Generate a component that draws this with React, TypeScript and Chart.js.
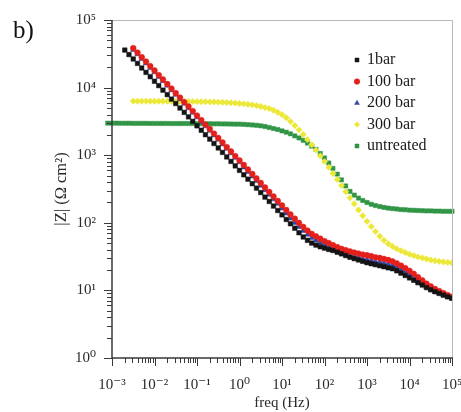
import React, { useEffect, useRef } from "react";
import { Chart, registerables } from "chart.js";

Chart.register(...registerables);

// Frequencies (Hz), 10 points per decade, shared by all series (each series ends at 1e5)
const FREQ_HZ = [
  5.01e-4, 6.31e-4, 7.94e-4,
  1.0e-3, 1.26e-3, 1.58e-3, 2.0e-3, 2.51e-3, 3.16e-3, 3.98e-3, 5.01e-3, 6.31e-3, 7.94e-3,
  1.0e-2, 1.26e-2, 1.58e-2, 2.0e-2, 2.51e-2, 3.16e-2, 3.98e-2, 5.01e-2, 6.31e-2, 7.94e-2,
  1.0e-1, 1.26e-1, 1.58e-1, 2.0e-1, 2.51e-1, 3.16e-1, 3.98e-1, 5.01e-1, 6.31e-1, 7.94e-1,
  1.0, 1.26, 1.58, 2.0, 2.51, 3.16, 3.98, 5.01, 6.31, 7.94,
  10, 12.6, 15.8, 20.0, 25.1, 31.6, 39.8, 50.1, 63.1, 79.4,
  100, 126, 158, 200, 251, 316, 398, 501, 631, 794,
  1000, 1260, 1580, 2000, 2510, 3160, 3980, 5010, 6310, 7940,
  10000, 12600, 15800, 20000, 25100, 31600, 39800, 50100, 63100, 79400,
  100000,
];

// |Z| (Ohm cm^2) — values aligned to the high-frequency end of FREQ_HZ
const Z_1BAR = [
  35900, 30800, 26500, 22800, 19500, 16800, 14500, 12400, 10700, 9160,
  7870, 6760, 5810, 4990, 4300, 3690, 3170, 2720, 2340, 2010,
  1730, 1490, 1280, 1100, 942, 809, 695, 597, 513, 442,
  379, 326, 280, 240, 207, 177, 152, 131, 112, 96.8,
  83.2, 71.3, 61.7, 55.0, 50.1, 46.8, 44.2, 42.2, 40.3, 38.9,
  36.7, 34.7, 32.7, 30.9, 29.5, 28.2, 26.9, 25.7, 24.8, 24.0,
  23.2, 22.4, 21.6, 20.9, 19.5, 18.0, 16.6, 15.3, 14.1, 13.0,
  12.0, 11.0, 10.2, 9.55, 9.02, 8.51, 8.04, 7.67,
];

const Z_100BAR = [
  38400, 33000, 28200, 24300, 20800, 17900, 15300, 13200, 11300, 9680,
  8300, 7130, 6110, 5250, 4500, 3860, 3310, 2840, 2440, 2090,
  1800, 1540, 1320, 1135, 972, 836, 716, 615, 527, 453,
  388, 333, 286, 245, 210, 181, 155, 133, 115, 99.5,
  87.1, 76.7, 68.4, 63.1, 58.2, 53.7, 50.1, 46.8, 43.7, 41.2,
  39.4, 37.6, 36.3, 35.1, 33.9, 33.1, 32.0, 30.9, 30.2, 29.2,
  28.2, 26.9, 25.1, 23.2, 21.4, 19.5, 17.6, 15.7, 14.1, 12.6,
  11.5, 10.5, 9.77, 9.12, 8.51, 8.04,
];

const Z_200BAR = [
  36200, 31200, 26600, 22900, 19600, 16900, 14400, 12500, 10700, 9140,
  7840, 6730, 5770, 4960, 4250, 3640, 3120, 2680, 2300, 1970,
  1700, 1450, 1250, 1070, 918, 789, 660, 565, 484, 415,
  355, 304, 261, 223, 192, 163, 138, 116, 100, 86.7,
  75.9, 66.8, 59.6, 55.0, 50.7, 46.8, 43.6, 40.8, 38.1, 35.9,
  34.3, 32.7, 31.6, 30.6, 29.5, 28.8, 27.9, 26.9, 26.3, 25.4,
  24.6, 23.4, 21.9, 20.2, 18.6, 17.0, 15.3, 13.7, 12.5, 11.3,
  10.4, 9.6, 9.0, 8.45, 7.95, 7.55,
];

const Z_300BAR = [
  6310, 6300, 6310, 6300, 6290, 6290, 6280, 6280, 6270, 6260,
  6250, 6240, 6230, 6220, 6210, 6200, 6180, 6160, 6140, 6120,
  6090, 6060, 6020, 5970, 5910, 5820, 5750, 5660, 5560, 5420,
  5250, 5060, 4900, 4620, 4310, 3980, 3590, 3160, 2750, 2370,
  2020, 1700, 1430, 1190, 977, 804, 661, 537, 437, 355,
  288, 234, 191, 155, 127, 105, 88.1, 74.1, 63.1, 55.0,
  49.0, 44.7, 41.2, 38.5, 36.3, 34.3, 32.7, 31.3, 30.2, 29.2,
  28.2, 27.5, 26.9, 26.3, 26.0, 25.7,
];

const Z_UNTREATED = [
  2990, 2990, 2980, 2980, 2980, 2970, 2970, 2970, 2960, 2960,
  2960, 2960, 2950, 2950, 2950, 2950, 2950, 2940, 2940, 2940,
  2940, 2940, 2940, 2930, 2930, 2920, 2920, 2910, 2910, 2900,
  2900, 2890, 2880, 2880, 2860, 2830, 2800, 2770, 2720, 2660,
  2570, 2480, 2400, 2290, 2190, 2070, 1930, 1800, 1660, 1510,
  1360, 1220, 1060, 912, 767, 638, 525, 432, 351, 292,
  257, 232, 214, 200, 188, 180, 174, 169, 165, 162,
  160, 157, 156, 154, 153, 152, 151, 150, 150, 149,
  149, 148, 148, 148,
];

const SERIES_NAMES = ["1bar", "100 bar", "200 bar", "300 bar", "untreated"];

const X_TICKS = [1e-3, 1e-2, 1e-1, 1, 10, 100, 1e3, 1e4, 1e5];
const X_TICK_LABELS = ["10⁻³", "10⁻²", "10⁻¹", "10⁰", "10¹", "10²", "10³", "10⁴", "10⁵"];
const Y_TICKS = [1, 10, 100, 1e3, 1e4, 1e5];
const Y_TICK_LABELS = ["10⁰", "10¹", "10²", "10³", "10⁴", "10⁵"];

const X_TITLE = "freq (Hz)";
const Y_TITLE = "|Z| (Ω cm²)";
const PANEL_LABEL = "b)";

const SERIF = "'Liberation Serif', 'DejaVu Serif', 'Times New Roman', serif";

const toPoints = (z: number[]) =>
  z.map((v, i) => ({ x: FREQ_HZ[FREQ_HZ.length - z.length + i], y: v }));

const frameAndTicks = {
  id: "frameAndTicks",
  beforeDraw(chart: any) {
    const lg = chart.legend;
    const a = chart.chartArea;
    if (lg && a) {
      const w = lg.width;
      const h = lg.height;
      lg.left = a.right - 102.5;
      lg.top = a.top + 26.5;
      lg.right = lg.left + w;
      lg.bottom = lg.top + h;
    }
  },
  afterDraw(chart: any) {
    const { ctx, chartArea: a, scales } = chart;
    const xs = scales.x;
    const ys = scales.y;
    ctx.save();
    // light frame on top and right
    ctx.strokeStyle = "#b8b8b8";
    ctx.lineWidth = 1;
    ctx.beginPath();
    ctx.moveTo(a.left, a.top + 0.5);
    ctx.lineTo(a.right + 0.5, a.top + 0.5);
    ctx.lineTo(a.right + 0.5, a.bottom);
    ctx.stroke();
    // axes
    ctx.strokeStyle = "#3a3a3a";
    ctx.lineWidth = 1.5;
    ctx.beginPath();
    ctx.moveTo(a.left, a.top);
    ctx.lineTo(a.left, a.bottom);
    ctx.lineTo(a.right + 1, a.bottom);
    ctx.stroke();
    // ticks
    ctx.lineWidth = 1;
    ctx.beginPath();
    for (let n = -3; n <= 5; n++) {
      for (let k = 1; k <= 9; k++) {
        const v = k * Math.pow(10, n);
        if (v > 1e5 * 1.0001) break;
        const px = Math.round(xs.getPixelForValue(v)) + 0.5;
        const len = k === 1 ? 8 : 5;
        ctx.moveTo(px, a.bottom);
        ctx.lineTo(px, a.bottom + len);
      }
    }
    for (let n = 0; n <= 5; n++) {
      for (let k = 1; k <= 9; k++) {
        const v = k * Math.pow(10, n);
        if (v > 1e5 * 1.0001) break;
        const py = Math.round(ys.getPixelForValue(v)) + 0.5;
        const len = k === 1 ? 8 : 5;
        ctx.moveTo(a.left, py);
        ctx.lineTo(a.left - len, py);
      }
    }
    ctx.stroke();
    ctx.restore();
  },
};

export default function App() {
  const canvasRef = useRef<HTMLCanvasElement | null>(null);

  useEffect(() => {
    const canvas = canvasRef.current;
    if (!canvas) return;

    const styles = [
      { color: "#141414", pointStyle: "rect", radius: 3.2 },
      { color: "#e3201b", pointStyle: "circle", radius: 2.9 },
      { color: "#2d47a6", pointStyle: "triangle", radius: 3.2 },
      { color: "#ece83a", pointStyle: "rectRot", radius: 3.2 },
      { color: "#2f9444", pointStyle: "rect", radius: 3.0 },
    ];
    const series = [Z_1BAR, Z_100BAR, Z_200BAR, Z_300BAR, Z_UNTREATED];

    const datasets = series.map((z, i) => ({
      label: SERIES_NAMES[i],
      data: toPoints(z),
      showLine: false,
      pointStyle: styles[i].pointStyle,
      pointRadius: styles[i].radius,
      pointBackgroundColor: styles[i].color,
      pointBorderColor: styles[i].color,
      pointBorderWidth: 0.5,
      backgroundColor: styles[i].color,
      borderColor: styles[i].color,
      clip: i === 4 ? false : undefined,
    }));

    const chart = new Chart(canvas, {
      type: "scatter",
      data: { datasets: datasets as any },
      plugins: [frameAndTicks as any],
      options: {
        animation: false,
        responsive: false,
        events: [],
        layout: { padding: { top: 20, right: 9, left: 0, bottom: 0 } },
        plugins: {
          tooltip: { enabled: false },
          title: { display: false },
          legend: {
            position: "chartArea" as any,
            align: "start",
            labels: {
              usePointStyle: true,
              boxWidth: 4,
              boxHeight: 4,
              padding: 5.5,
              color: "#1a1a1a",
              font: { family: SERIF, size: 16 },
            },
          },
        },
        scales: {
          x: {
            type: "logarithmic",
            position: "bottom",
            min: 1e-3,
            max: 1e5,
            grid: { display: false, drawTicks: false },
            border: { display: false },
            afterBuildTicks: (s: any) => {
              s.ticks = X_TICKS.map((v) => ({ value: v, major: true }));
            },
            afterFit: (s: any) => {
              s.height = 54;
              s.paddingLeft = 0;
              s.paddingRight = 0;
            },
            ticks: {
              autoSkip: false,
              maxRotation: 0,
              minRotation: 0,
              padding: 18,
              color: "#2a2a2a",
              font: { family: SERIF, size: 15 },
              callback: (_v: any, i: number) => X_TICK_LABELS[i],
            },
            title: {
              display: true,
              text: X_TITLE,
              color: "#2a2a2a",
              font: { family: SERIF, size: 15 },
              padding: { top: 0, bottom: 0 },
            },
          },
          y: {
            type: "logarithmic",
            position: "left",
            min: 1,
            max: 1e5,
            grid: { display: false, drawTicks: false },
            border: { display: false },
            afterBuildTicks: (s: any) => {
              s.ticks = Y_TICKS.map((v) => ({ value: v, major: true }));
            },
            afterFit: (s: any) => {
              s.width = 112;
              s.paddingTop = 0;
              s.paddingBottom = 0;
            },
            ticks: {
              autoSkip: false,
              padding: 16,
              color: "#2a2a2a",
              font: { family: SERIF, size: 15 },
              callback: (_v: any, i: number) => Y_TICK_LABELS[i],
            },
            title: {
              display: true,
              text: Y_TITLE,
              color: "#2a2a2a",
              font: { family: SERIF, size: 16.5 },
              padding: { top: 52, bottom: 0 },
            },
          },
        },
      } as any,
    });

    return () => chart.destroy();
  }, []);

  return (
    <div style={{ position: "fixed", left: 0, top: 0, width: 461, height: 412, background: "#fff" }}>
      <canvas ref={canvasRef} width={461} height={412} style={{ display: "block" }} />
      <div
        style={{
          position: "absolute",
          left: 13,
          top: 17,
          fontFamily: SERIF,
          fontSize: 25,
          lineHeight: "25px",
          color: "#111",
        }}
      >
        {PANEL_LABEL}
      </div>
    </div>
  );
}
